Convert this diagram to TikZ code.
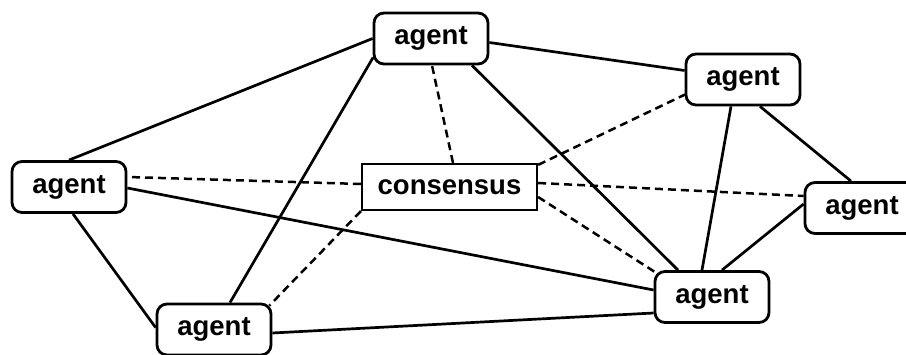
\documentclass[tikz,border=0pt]{standalone}
\usepackage{fontspec}
\setmainfont{Liberation Sans}
\usetikzlibrary{calc}
\begin{document}
\begin{tikzpicture}[x=1pt,y=-1pt,
  agentbox/.style={draw,line width=2.8pt,rounded corners=10pt,minimum width=114pt,minimum height=51pt,inner sep=0pt,font=\fontsize{27.5}{30}\selectfont\bfseries,fill=white},
  consbox/.style={draw,line width=2.2pt,minimum width=175pt,minimum height=46pt,inner sep=0pt,font=\fontsize{27.5}{30}\selectfont\bfseries,fill=white},
  solidedge/.style={line width=2.7pt},
  dashedge/.style={line width=2.5pt,dash pattern=on 8pt off 5pt}]
\useasboundingbox (0,0) rectangle (906,355);
\clip (0,0) rectangle (906,355);
\node[agentbox] (top) at (431,38.5) {agent};
\node[agentbox] (tr) at (743,79.5) {agent};
\node[agentbox] (left) at (69,187) {agent};
\node[consbox] (cons) at (449.5,187) {consensus};
\node[agentbox] (right) at (862,208) {agent};
\node[agentbox] (br) at (712,297) {agent};
\node[agentbox] (bl) at (214,329.5) {agent};
% solid edges
\draw[solidedge] (top.west) -- (left.north);
\draw[solidedge] ($(top.west)+(0.5,19)$) -- ($(bl.north)+(16,0)$);
\draw[solidedge] ($(top.east)+(0,4)$) -- ($(tr.west)+(0,-9)$);
\draw[solidedge] ($(top.south)+(41,0)$) -- ($(br.north)+(-34,0)$);
\draw[solidedge] ($(tr.south)+(-12,0)$) -- ($(br.north)+(-10,0)$);
\draw[solidedge] ($(tr.south)+(17,0)$) -- ($(right.north)+(-11,0)$);
\draw[solidedge] ($(right.west)+(0,-4)$) -- ($(br.north)+(10,0)$);
\draw[solidedge] ($(left.south)+(4,0)$) -- ($(bl.west)+(0,-2)$);
\draw[solidedge] ($(left.east)+(0,1)$) -- ($(br.west)+(0,-7)$);
\draw[solidedge] ($(bl.east)+(0,3.5)$) -- ($(br.west)+(0,16)$);
% dashed edges
\draw[dashedge] ($(cons.north)+(3.5,0)$) -- ($(top.south)+(1,0)$);
\draw[dashedge] ($(cons.north east)+(0,2)$) -- ($(tr.west)+(0.5,15)$);
\draw[dashedge] ($(cons.west)+(0,-3)$) -- ($(left.east)+(0,-10)$);
\draw[dashedge] ($(cons.east)+(0,-4)$) -- ($(right.west)+(0,-12)$);
\draw[dashedge] ($(cons.east)+(0,10)$) -- ($(br.north west)+(3,3)$);
\draw[dashedge] (cons.south west) -- ($(bl.north east)+(-3,3)$);
\end{tikzpicture}
\end{document}
